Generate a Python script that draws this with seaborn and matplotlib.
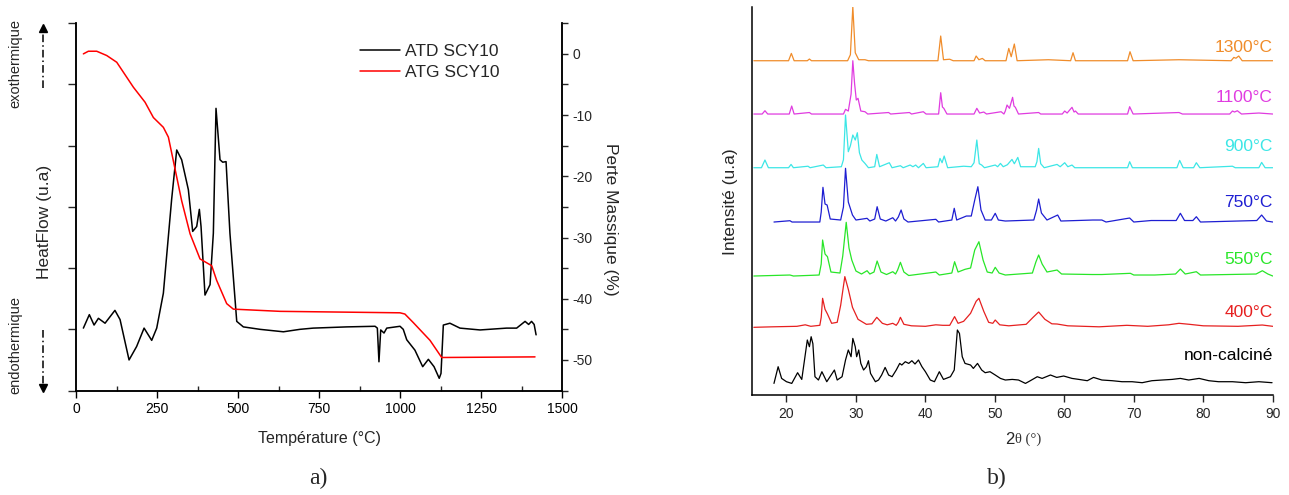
import numpy as np
import pandas as pd
import matplotlib
matplotlib.use("Agg")
import matplotlib.pyplot as plt
from matplotlib.ticker import MultipleLocator
import seaborn as sns

# ---- a) DTA / TG ----
dta_T = [22.6, 41, 55.6, 69, 89.5, 120, 135.8, 163.6, 187, 210, 233.5, 249, 269.5, 295, 310.7,
         326, 346.7, 360, 372.4, 380.6, 385.8, 398, 413.6, 423.8, 432, 444.4, 452.7, 463, 475,
         496, 516.4, 568, 640, 691, 732, 835.5, 923, 930, 935, 940.4, 950.6, 959, 1000, 1010,
         1020.7, 1046, 1070, 1087.5, 1105, 1121, 1126.5, 1133.7, 1154, 1185, 1247, 1329, 1360,
         1386, 1397, 1406, 1414, 1420]
dta_h = [1.02, 1.24, 1.07, 1.18, 1.10, 1.31, 1.16, 0.50, 0.72, 1.02, 0.82, 1.02, 1.59, 3.12, 3.93,
         3.77, 3.28, 2.60, 2.68, 2.96, 2.68, 1.56, 1.73, 2.57, 4.61, 3.77, 3.73, 3.74, 2.57,
         1.13, 1.04, 1.00, 0.96, 1.00, 1.02, 1.04, 1.05, 1.02, 0.47, 0.99, 0.94, 1.02, 1.05, 1.00,
         0.83, 0.66, 0.39, 0.51, 0.39, 0.20, 0.28, 1.07, 1.10, 1.02, 0.99, 1.02, 1.02,
         1.13, 1.08, 1.13, 1.08, 0.91]

tg_T = [22.6, 38, 63.8, 94.7, 125.6, 177, 213, 238.7, 269.5, 285, 300, 326, 352, 382.7, 418.7,
        434, 465, 485.5, 629.6, 1000, 1015, 1041, 1092.6, 1128.6, 1416.7]
tg_m = [0, 0.43, 0.43, -0.27, -1.37, -5.45, -7.9, -10.4, -12.0, -13.6, -17.4, -24.0, -29.4, -33.5, -34.6,
        -37.0, -40.8, -41.7, -42.06, -42.3, -42.5, -43.9, -46.8, -49.6, -49.5]

# ---- b) XRD patterns (2theta, height above own baseline) ----
xrd_1300 = [(15.3, 0), (20.3, 0), (20.7, 7.3), (21.1, 0), (23.0, 0), (23.3, 1.7), (23.6, 0),
            (28.8, 0), (29.2, 6), (29.55, 54), (29.9, 8), (30.4, 1), (31.3, 1), (31.8, 0),
            (41.8, 0), (42.2, 24.7), (42.6, 1), (43.5, 1.5), (44, 0),
            (47.0, 0), (47.3, 4.7), (47.7, 1), (48.2, 2.3), (48.6, 0),
            (51.6, 0), (52.0, 12.3), (52.35, 4), (52.8, 16.7), (53.2, 0),
            (57.7, 1), (60.9, 0), (61.25, 8), (61.6, 0), (69.1, 0), (69.45, 9), (69.9, 0),
            (76.5, 1), (84.0, 0), (84.4, 3.3), (84.7, 2.5), (85.1, 4.7), (85.6, 0), (90, 0)]
xrd_1100 = [(15.3, 0), (16.5, 0), (16.9, 3.3), (17.3, 0), (20.4, 0), (20.75, 8), (21.1, 0), (23.3, 1.5), (23.6, 0),
            (28.2, 0), (28.5, 4.7), (28.9, 3), (29.3, 20), (29.55, 53.3), (29.8, 30.7), (30.05, 14), (30.3, 15.7),
            (30.7, 3), (31.3, 2.3), (31.7, 0), (34.7, 1.5), (35, 0), (37.7, 1.5), (38, 0), (39.7, 2.3), (40.1, 0),
            (41.9, 0), (42.2, 21.3), (42.45, 7), (42.65, 5.7), (43.1, 0),
            (47.0, 0), (47.4, 5.7), (47.8, 1), (48.4, 2), (48.8, 0), (50.9, 2.3), (51.3, 0),
            (51.5, 3), (51.75, 9), (52.1, 5.7), (52.55, 16.7), (52.75, 8), (52.95, 6.7), (53.4, 0),
            (56.3, 1.5), (56.6, 0), (59.7, 0), (60.05, 3), (60.4, 1), (61.1, 6.7), (61.4, 2), (61.6, 3), (62.0, 0),
            (69.1, 0), (69.4, 7.3), (69.9, 0), (76.5, 1.5), (77, 0), (83.8, 0), (84.2, 3), (84.5, 2), (84.9, 3.3),
            (85.5, 0), (88, 1), (90, 0)]
xrd_900 = [(15.3, 0), (16.4, 0), (16.9, 7.7), (17.4, 0), (20.3, 0), (20.66, 3.3), (21, 0), (23.1, 1.5), (23.4, 0),
           (25.3, 2.7), (25.7, 0), (27.9, 1), (28.2, 8), (28.5, 52.7), (28.9, 16), (29.2, 22), (29.55, 32.7),
           (29.9, 27.7), (30.2, 35), (30.5, 15), (30.85, 7.7), (31.3, 4.3), (31.8, 0),
           (32.7, 1), (33.0, 13.3), (33.4, 1), (34.8, 5), (35.2, 0), (36.4, 2), (36.8, 0), (37.8, 2.7), (38.2, 1),
           (38.6, 2.7), (39.0, 0), (39.7, 4.3), (40.1, 0), (41.8, 1), (42.1, 9.3), (42.4, 5), (42.7, 11.7), (43.2, 0),
           (45.5, 1.5), (46.6, 1), (47.0, 5), (47.4, 27.7), (47.75, 4), (48.1, 2.7), (48.5, 0),
           (50.05, 2.7), (50.4, 1), (50.8, 4.3), (51.2, 1), (51.8, 3), (52.46, 8.3), (52.8, 4), (53.3, 10.3),
           (53.7, 1), (55.8, 1), (56.05, 6), (56.3, 19.3), (56.6, 4), (57.1, 0),
           (58.95, 3.3), (59.4, 1), (60.05, 5), (60.5, 1), (61.1, 2.7), (61.5, 0), (69.1, 0), (69.4, 6), (69.8, 0),
           (76.2, 0), (76.6, 7.3), (77.1, 0), (78.6, 0), (79.0, 5), (79.5, 0), (84.2, 1.5), (84.6, 0),
           (88.0, 0), (88.4, 5.3), (88.9, 0), (90, 0)]
xrd_750 = [(18.2, 0), (20.5, 1.3), (20.8, 0), (24.8, 0), (25.0, 10), (25.25, 34.7), (25.55, 18), (25.85, 17),
           (26.3, 3), (27.8, 2), (28.2, 15), (28.5, 53.7), (28.9, 20), (29.5, 7), (30.0, 2), (31.6, 3.7), (32.0, 1),
           (32.7, 3), (33.05, 15.3), (33.5, 3), (34.3, 1), (35.3, 4.3), (35.7, 1), (36.1, 5), (36.5, 12), (36.9, 3),
           (37.5, 0), (41.5, 2.7), (41.9, 0), (43.8, 2), (44.15, 13.7), (44.5, 2), (45.9, 6), (46.6, 6), (47.1, 22),
           (47.55, 35.3), (48.0, 12), (48.6, 2), (49.5, 2), (50.05, 8.7), (50.5, 2), (51.5, 1),
           (55.6, 2), (56.0, 12), (56.3, 23), (56.7, 9), (57.5, 2), (59.04, 7), (59.5, 1), (64.1, 2), (65.4, 2),
           (66, 0), (69.4, 4), (70, 0), (72.5, 1.5), (76.1, 1.5), (76.7, 8.7), (77.3, 1.5), (78.5, 1.5),
           (79.0, 5.3), (79.6, 0), (87.7, 1.5), (88.4, 7), (89.1, 1), (90, 0)]
xrd_550 = [(15.3, 0), (20.5, 1), (21, 0), (24.7, 1), (25.0, 12), (25.2, 36), (25.55, 22), (25.9, 19.3), (26.4, 4),
           (27.7, 3), (28.1, 20), (28.6, 53.7), (29.0, 28), (29.4, 16), (30.0, 5), (30.8, 2), (31.6, 5.3), (32.0, 2),
           (32.6, 4), (33.05, 15), (33.6, 4), (34.4, 1.5), (35.3, 4.3), (35.7, 2), (36.0, 6), (36.4, 13.7), (36.9, 4),
           (37.6, 0.5), (41.5, 4), (42.0, 1), (43.8, 3), (44.2, 14.3), (44.7, 4), (45.7, 6.7), (46.5, 8), (47.1, 26),
           (47.7, 34.3), (48.3, 16), (48.9, 4), (49.6, 3), (50.05, 8.7), (50.6, 3), (51.5, 1),
           (55.4, 3), (55.9, 14), (56.3, 21), (56.8, 12), (57.5, 4), (58.95, 6), (59.6, 2), (64, 1.5), (65.4, 1.5),
           (69.5, 2.7), (70, 1), (73, 1), (76.0, 2), (76.7, 7), (77.4, 2), (79.0, 4.3), (79.6, 1),
           (87.6, 2), (88.5, 5.3), (89.3, 2), (90, 0)]
xrd_400 = [(15.3, 0), (18, 0.5), (21.5, 1), (22.7, 2.5), (23.5, 1), (24.8, 2), (25.0, 10), (25.2, 29), (25.55, 18),
           (25.9, 13.3), (26.5, 4), (27.3, 5), (27.8, 22), (28.4, 50.7), (28.9, 38), (29.5, 20), (30.3, 8), (31.5, 3),
           (32.3, 3.5), (33.0, 10), (33.8, 4), (34.5, 2.5), (35.3, 4), (35.8, 2), (36.1, 5), (36.4, 10), (36.9, 3),
           (38, 1.5), (40, 1), (41.5, 2.5), (42.5, 2), (43.5, 2), (44.2, 10.7), (44.7, 4), (45.5, 6), (46.5, 14),
           (47.3, 26), (47.7, 29), (48.4, 16), (49.1, 5), (49.7, 4), (50.05, 7.3), (50.7, 2.5), (52, 1.5),
           (54.5, 3), (55.5, 10), (56.3, 15.3), (57.2, 8), (58.2, 3.5), (58.95, 3.3), (60.5, 1.5), (65, 0.5),
           (69, 2), (72, 1), (75, 2.5), (76.5, 4), (78, 3), (80, 1.5), (85, 1), (88.5, 2.3), (90, 1)]
xrd_raw = [(18.2, -1.7), (18.8, 15), (19.3, 3.3), (20.0, 0), (20.76, -1.7), (21.6, 9), (22.2, 2.3), (23.0, 41.7),
           (23.3, 35), (23.55, 45), (23.8, 38), (24.1, 5), (24.6, 1.7), (25.1, 10), (25.8, 0), (26.9, 11.7),
           (27.3, 1.7), (28.0, 5), (28.5, 21.7), (28.9, 31.7), (29.3, 25), (29.55, 43.3), (29.9, 35), (30.1, 25),
           (30.4, 31.7), (30.7, 18.3), (31.1, 11.7), (31.5, 15), (31.8, 21), (32.1, 8.3), (32.8, 0), (33.25, 1.7),
           (33.7, 6.7), (34.2, 14.3), (34.7, 6.7), (35.2, 5), (35.8, 11.7), (36.3, 18.3), (36.6, 16.7), (37.1, 20),
           (37.6, 18.3), (38.05, 21), (38.5, 17.7), (39.0, 21.7), (39.5, 15), (40.0, 10), (40.7, 1.7), (41.3, 0),
           (42.0, 10), (42.6, 2.3), (43.6, 5), (44.15, 11.7), (44.6, 51.7), (44.9, 48.3), (45.3, 25), (45.7, 18.3),
           (46.5, 16.7), (46.9, 13.3), (47.5, 18.3), (48.1, 11.7), (48.6, 9), (49.3, 10), (50.05, 6.7), (50.8, 3.3),
           (51.5, 1.7), (52.5, 2.3), (53.4, 1.7), (54.4, -1.7), (55.1, 1), (56.1, 5), (56.8, 3.3), (58.0, 6.7),
           (58.9, 4.3), (59.9, 5.7), (61.1, 3.3), (62.1, 2.3), (63.3, 1), (64.2, 4.3), (65.4, 1.7), (66.9, 1),
           (68.3, 0), (69.75, 0), (71.2, -1), (72.6, 1), (74.1, 1.7), (75.5, 2.3), (76.7, 3.3), (77.9, 1.7),
           (79.4, 3.3), (80.8, 1), (82.2, 0), (84.2, 0), (86.1, -1), (88.0, 0), (89.9, -1)]

samples = ["1300°C", "1100°C", "900°C", "750°C", "550°C", "400°C", "non-calciné"]
patterns = [xrd_1300, xrd_1100, xrd_900, xrd_750, xrd_550, xrd_400, xrd_raw]
colors = ["#F08C2A", "#E03CE0", "#3CE6E6", "#1E1ED2", "#28E628", "#E62020", "#000000"]
offsets = [334.3, 281, 227.3, 173, 119, 67.7, 13.3]
label_dy = [13.4, 16.7, 21, 19.3, 16.7, 14.6, 26.7]

sns.set_style("ticks")
plt.rcParams["font.family"] = ["Liberation Sans", "DejaVu Sans"]
plt.rcParams["axes.unicode_minus"] = False

fig = plt.figure(figsize=(12.89, 4.95), dpi=100)

# ---------- panel a ----------
ax1 = fig.add_axes([0.059, 0.211, 0.377, 0.742])
dta = pd.DataFrame({"T": dta_T, "h": dta_h})
tg = pd.DataFrame({"T": tg_T, "m": tg_m})
sns.lineplot(data=dta, x="T", y="h", ax=ax1, color="black", lw=1.1, estimator=None)
ax2 = ax1.twinx()
sns.lineplot(data=tg, x="T", y="m", ax=ax2, color="red", lw=1.1, estimator=None)

ax1.set_xlim(0, 1500)
ax1.set_ylim(0, 6)
ax2.set_ylim(-55, 5)
ax1.xaxis.set_major_locator(MultipleLocator(250))
ax1.xaxis.set_minor_locator(MultipleLocator(125))
ax1.set_yticks(range(7))
ax1.set_yticklabels([])
ax2.set_yticks(range(-50, 1, 10))
ax2.yaxis.set_minor_locator(MultipleLocator(5))
ax1.tick_params(axis="x", which="major", direction="out", length=5, width=1, labelsize=10, colors="black")
ax1.tick_params(axis="x", which="minor", direction="in", length=3.5, width=1)
ax1.tick_params(axis="y", direction="out", length=5.5, width=1)
ax2.tick_params(axis="y", which="both", direction="out", length=4, width=1, labelsize=10)
for a in (ax1, ax2):
    a.spines["top"].set_visible(False)
    for s in a.spines.values():
        s.set_linewidth(1.1)
        s.set_color("black")

ax1.set_xlabel("Température (°C)", fontsize=11.5)
ax1.xaxis.set_label_coords(0.5, -0.11)
ax1.set_ylabel("HeatFlow (u.a)", fontsize=12.5)
ax1.yaxis.set_label_coords(-0.05, 0.46)
ax2.set_ylabel("Perte Massique (%)", fontsize=12.5, rotation=270, va="bottom")
ax2.yaxis.set_label_coords(1.084, 0.467)

ax2.legend([ax1.lines[0], ax2.lines[0]], ["ATD SCY10", "ATG SCY10"],
           loc="upper left", bbox_to_anchor=(0.584, 0.945), frameon=False, fontsize=12.5,
           handlelength=2.3, handletextpad=0.3, labelspacing=0.35, borderaxespad=0, borderpad=0)

# ---------- panel b ----------
ax3 = fig.add_axes([0.5832, 0.202, 0.4042, 0.7844])
frames = []
for name, pts, off in zip(samples, patterns, offsets):
    d = pd.DataFrame(pts, columns=["two_theta", "counts"])
    d["counts"] = d["counts"] + off
    d["sample"] = name
    frames.append(d)
xrd = pd.concat(frames, ignore_index=True)
sns.lineplot(data=xrd, x="two_theta", y="counts", hue="sample", hue_order=samples,
             palette=dict(zip(samples, colors)), estimator=None, lw=0.9, legend=False, ax=ax3)

for name, col, off, dy in zip(samples, colors, offsets, label_dy):
    ax3.text(90, off + dy, name, color=col, fontsize=12.5, ha="right", va="center")

ax3.set_xlim(15, 90)
ax3.set_ylim(0, 388.3)
ax3.set_xticks(range(20, 91, 10))
ax3.set_yticks([])
ax3.tick_params(axis="x", direction="out", length=5, width=1, labelsize=10)
sns.despine(ax=ax3)
for s in ax3.spines.values():
    s.set_linewidth(1.1)
    s.set_color("black")
ax3.set_ylabel("Intensité (u.a)", fontsize=12.5)
ax3.yaxis.set_label_coords(-0.026, 0.498)
ax3.set_xlabel("")
ax3.text(0.505, -0.115, "2", transform=ax3.transAxes, fontsize=12, ha="right", va="center")
ax3.text(0.505, -0.115, "θ (°)", transform=ax3.transAxes, fontsize=10.5, ha="left", va="center",
         family=["Liberation Serif", "DejaVu Serif"], color="#333333")

# ---------- decorations (figure pixel frame) ----------
deco = fig.add_axes([0, 0, 1, 1])
deco.set_xlim(0, 1289)
deco.set_ylim(495, 0)
deco.axis("off")
deco.plot([43.3, 43.3], [88, 32], color="black", lw=1.1, ls=(0, (5, 2, 1, 2)))
deco.plot([43.3], [28], marker="^", color="black", ms=6)
deco.plot([43.3, 43.3], [330, 384], color="black", lw=1.1, ls=(0, (5, 2, 1, 2)))
deco.plot([43.3], [388], marker="v", color="black", ms=6)
deco.text(15, 63, "exothermique", rotation=90, fontsize=10.5, ha="center", va="center")
deco.text(15, 345, "endothermique", rotation=90, fontsize=10.5, ha="center", va="center")
deco.text(318, 478, "a)", fontsize=17, ha="center", va="center", family=["Liberation Serif", "DejaVu Serif"])
deco.text(997, 478, "b)", fontsize=17, ha="center", va="center", family=["Liberation Serif", "DejaVu Serif"])

fig.savefig("out.png", dpi=100)
